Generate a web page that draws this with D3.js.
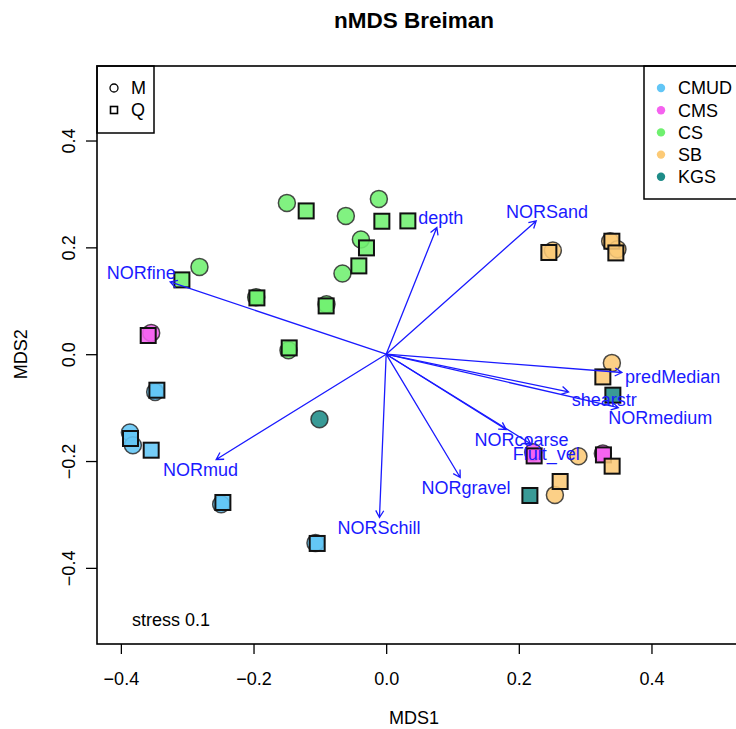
<!DOCTYPE html>
<html>
<head>
<meta charset="utf-8">
<script src="https://cdn.jsdelivr.net/npm/d3@7"></script>
<style>
  html, body { margin: 0; padding: 0; background: #fff; overflow: hidden; }
  svg { display: block; font-family: "Liberation Sans", Arial, sans-serif; }
</style>
</head>
<body>
<svg id="chart" width="736" height="729"></svg>
<script>
// ---- data ----------------------------------------------------------------
const groups = ["CMUD", "CMS", "CS", "SB", "KGS"];
const periods = ["M", "Q"];

// site scores, survey M (circles)
const mX = [-0.1497, -0.0608, -0.0110, -0.0381, -0.0659, -0.2815, -0.1960, -0.0900, -0.1473,
            -0.3543, 0.2216, 0.3267,
            -0.3483, -0.3864, -0.3819, -0.2488, -0.1066,
            0.2513, 0.3377, 0.3487, 0.3403, 0.2899, 0.2544,
            -0.1006];
const mY = [0.2832, 0.2589, 0.2907, 0.2147, 0.1511, 0.1634, 0.1067, 0.0936, 0.0075,
            0.0399, -0.1834, -0.1859,
            -0.0706, -0.1466, -0.1703, -0.2808, -0.3532,
            0.1941, 0.2115, 0.1965, -0.0163, -0.1909, -0.2634,
            -0.1217];
const mGroup = ["CS", "CS", "CS", "CS", "CS", "CS", "CS", "CS", "CS",
                "CMS", "CMS", "CMS",
                "CMUD", "CMUD", "CMUD", "CMUD", "CMUD",
                "SB", "SB", "SB", "SB", "SB", "SB",
                "KGS"];

// site scores, survey Q (squares)
const qX = [-0.1206, -0.0065, 0.0327, -0.0297, -0.0412, -0.3080, -0.1949, -0.0905, -0.1462,
            -0.3588, 0.2231, 0.3276,
            -0.3457, -0.3855, -0.3543, -0.2462, -0.1040,
            0.2453, 0.3403, 0.3463, 0.3267, 0.3407, 0.2623,
            0.3418, 0.2167];
const qY = [0.2682, 0.2489, 0.2495, 0.1990, 0.1653, 0.1391, 0.1054, 0.0904, 0.0118,
            0.0350, -0.1904, -0.1885,
            -0.0674, -0.1578, -0.1797, -0.2776, -0.3543,
            0.1904, 0.2115, 0.1896, -0.0425, -0.2096, -0.2383,
            -0.0767, -0.2645];
const qGroup = ["CS", "CS", "CS", "CS", "CS", "CS", "CS", "CS", "CS",
                "CMS", "CMS", "CMS",
                "CMUD", "CMUD", "CMUD", "CMUD", "CMUD",
                "SB", "SB", "SB", "SB", "SB", "SB",
                "KGS", "KGS"];

// fitted environmental vectors (envfit arrows)
const vecNames = ["depth", "NORSand", "NORfine", "predMedian", "shearstr", "NORmedium",
                  "NORcoarse", "Fluit_vel", "NORgravel", "NORmud", "NORSchill"];
const vecX = [0.0764, 0.2262, -0.3257, 0.3554, 0.2750, 0.3500, 0.1809, 0.2178, 0.1116, -0.2563, -0.0101];
const vecY = [0.2372, 0.2495, 0.1353, -0.0343, -0.0706, -0.1000, -0.1409, -0.1676, -0.2308, -0.1971, -0.3057];

const xTicks = [-0.4, -0.2, 0.0, 0.2, 0.4];
const yTicks = [-0.4, -0.2, 0.0, 0.2, 0.4];
const stressValue = 0.1;

// ---- styles ---------------------------------------------------------------
const groupColor = {
  CMUD: "#62c6f6",
  CMS: "#f562ef",
  CS: "#6ff06f",
  SB: "#fcca76",
  KGS: "#1e8c88"
};
const vecColor = "#1a1aff";
const fontSize = 18;

// ---- layout ---------------------------------------------------------------
const svg = d3.select("#chart");
const plot = { left: 97, top: 66, bottom: 644, right: 742 };

const x = d3.scaleLinear().domain([-0.436, 0.5365]).range([plot.left, plot.right]);
const y = d3.scaleLinear().domain([-0.5425, 0.5395]).range([plot.bottom, plot.top]);

const fmt = v => (v < 0 ? "\u2212" : "") + Math.abs(v).toFixed(1);

// title
svg.append("text")
  .attr("x", 414).attr("y", 28)
  .attr("text-anchor", "middle")
  .attr("font-size", 22.5).attr("font-weight", "bold")
  .text("nMDS Breiman");

// axes
const xAxis = d3.axisBottom(x).tickValues(xTicks).tickSize(10).tickPadding(8).tickFormat(fmt);
const gx = svg.append("g").attr("transform", `translate(0,${plot.bottom})`).call(xAxis);
gx.select(".domain").remove();
gx.selectAll("line").attr("stroke", "#000").attr("stroke-width", 1.3);
gx.selectAll("text").attr("font-size", fontSize).attr("font-family", "Liberation Sans, Arial, sans-serif")
  .attr("fill", "#000").attr("dy", null).attr("y", 41);

const yAxis = d3.axisLeft(y).tickValues(yTicks).tickSize(11).tickFormat(fmt);
const gy = svg.append("g").attr("transform", `translate(${plot.left},0)`).call(yAxis);
gy.select(".domain").remove();
gy.selectAll("line").attr("stroke", "#000").attr("stroke-width", 1.3);
gy.selectAll("text")
  .attr("font-size", fontSize).attr("font-family", "Liberation Sans, Arial, sans-serif")
  .attr("fill", "#000")
  .attr("x", null).attr("dy", null)
  .attr("text-anchor", "middle")
  .attr("transform", "translate(-22,0) rotate(-90)");

// axis titles
svg.append("text")
  .attr("x", 414).attr("y", 724)
  .attr("text-anchor", "middle").attr("font-size", fontSize)
  .text("MDS1");
svg.append("text")
  .attr("transform", `translate(27,${y(0)}) rotate(-90)`)
  .attr("text-anchor", "middle").attr("font-size", fontSize)
  .text("MDS2");

// clip to plot region
svg.append("clipPath").attr("id", "plotclip")
  .append("rect")
  .attr("x", plot.left).attr("y", plot.top)
  .attr("width", plot.right - plot.left).attr("height", plot.bottom - plot.top);

const gPlot = svg.append("g").attr("clip-path", "url(#plotclip)");

// site points: circles (M) then squares (Q)
const mData = mX.map((v, i) => ({ x: v, y: mY[i], g: mGroup[i] }));
const qData = qX.map((v, i) => ({ x: v, y: qY[i], g: qGroup[i] }));

gPlot.append("g").selectAll("circle").data(mData).join("circle")
  .attr("cx", d => x(d.x)).attr("cy", d => y(d.y)).attr("r", 8.5)
  .attr("fill", d => groupColor[d.g]).attr("fill-opacity", 0.88)
  .attr("stroke", "#2b2b2b").attr("stroke-opacity", 0.85).attr("stroke-width", 1.5);

const sq = 15;
gPlot.append("g").selectAll("rect").data(qData).join("rect")
  .attr("x", d => x(d.x) - sq / 2).attr("y", d => y(d.y) - sq / 2)
  .attr("width", sq).attr("height", sq)
  .attr("fill", d => groupColor[d.g]).attr("fill-opacity", 0.88)
  .attr("stroke", "#111").attr("stroke-width", 2);

// environmental vectors
const vecData = vecNames.map((n, i) => ({ name: n, x: vecX[i], y: vecY[i] }));
const gVec = gPlot.append("g");
const headLen = 8, headAng = Math.PI / 6;
vecData.forEach(d => {
  const x0 = x(0), y0 = y(0), x1 = x(d.x), y1 = y(d.y);
  const a = Math.atan2(y1 - y0, x1 - x0);
  const p = d3.path();
  p.moveTo(x0, y0); p.lineTo(x1, y1);
  p.moveTo(x1 - headLen * Math.cos(a - headAng), y1 - headLen * Math.sin(a - headAng));
  p.lineTo(x1, y1);
  p.lineTo(x1 - headLen * Math.cos(a + headAng), y1 - headLen * Math.sin(a + headAng));
  gVec.append("path").attr("d", p.toString())
    .attr("fill", "none").attr("stroke", vecColor).attr("stroke-width", 1.3);
});

// vector labels: centred beyond the arrow head so the arrow meets the text box edge
const measure = svg.append("text").attr("font-size", fontSize).attr("visibility", "hidden");
const capH = fontSize * 0.716;
vecData.forEach(d => {
  measure.text(d.name);
  const w = measure.node().getComputedTextLength();
  const x0 = x(0), y0 = y(0), x1 = x(d.x), y1 = y(d.y);
  const dx = x1 - x0, dy = y1 - y0;
  const b = dy / dx;
  let ox = Math.sign(dx) * (w / 2 + capH / 4);
  let oy = 0.75 * capH * Math.sign(dy);
  const move = oy / b;
  if (isFinite(move) && Math.abs(move) <= Math.abs(ox)) ox = move;
  else oy = b * ox;
  gVec.append("text")
    .attr("x", x1 + ox).attr("y", y1 + oy)
    .attr("dy", "0.36em")
    .attr("text-anchor", "middle")
    .attr("font-size", fontSize).attr("fill", vecColor)
    .text(d.name);
});
measure.remove();

// stress annotation
gPlot.append("text")
  .attr("x", 132).attr("y", 626)
  .attr("font-size", fontSize)
  .text("stress " + stressValue);

// legend: survey (top left)
const lg1 = svg.append("g");
lg1.append("rect").attr("x", plot.left).attr("y", plot.top).attr("width", 57).attr("height", 67)
  .attr("fill", "#fff").attr("stroke", "#000").attr("stroke-width", 1.5);
periods.forEach((p, i) => {
  const cy = plot.top + 22 + i * 22;
  if (p === "M") {
    lg1.append("circle").attr("cx", plot.left + 17).attr("cy", cy).attr("r", 4)
      .attr("fill", "none").attr("stroke", "#000").attr("stroke-width", 1.3);
  } else {
    lg1.append("rect").attr("x", plot.left + 13.5).attr("y", cy - 3.5).attr("width", 7).attr("height", 7)
      .attr("fill", "none").attr("stroke", "#000").attr("stroke-width", 1.6);
  }
  lg1.append("text").attr("x", plot.left + 34).attr("y", cy).attr("dy", "0.36em")
    .attr("font-size", fontSize).text(p);
});

// legend: habitat groups (top right)
const lg2 = svg.append("g");
lg2.append("rect").attr("x", 644).attr("y", plot.top).attr("width", plot.right - 644).attr("height", 133)
  .attr("fill", "#fff").attr("stroke", "#000").attr("stroke-width", 1.5);
groups.forEach((g, i) => {
  const cy = plot.top + 22 + i * 22.2;
  lg2.append("circle").attr("cx", 661).attr("cy", cy).attr("r", 4.2)
    .attr("fill", groupColor[g]);
  lg2.append("text").attr("x", 678).attr("y", cy).attr("dy", "0.36em")
    .attr("font-size", fontSize).text(g);
});

// plot frame
svg.append("rect")
  .attr("x", plot.left).attr("y", plot.top)
  .attr("width", plot.right - plot.left).attr("height", plot.bottom - plot.top)
  .attr("fill", "none").attr("stroke", "#000").attr("stroke-width", 1.6);
</script>
</body>
</html>
